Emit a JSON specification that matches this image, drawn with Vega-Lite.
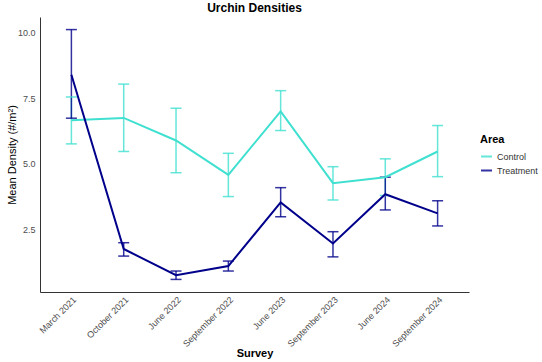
{
  "$schema": "https://vega.github.io/schema/vega-lite/v6.json",
  "autosize": "none",
  "width": 429,
  "height": 275,
  "padding": {"left": 40, "top": 17, "right": 73, "bottom": 70},
  "config": {
    "font": "Liberation Sans",
    "view": {"stroke": null},
    "axis": {"grid": false, "ticks": false, "domainColor": "#333333", "domainWidth": 1, "labelColor": "#4d4d4d", "labelFontSize": 9, "titleFontSize": 11, "titleColor": "#000000"}
  },
  "title": {"text": "Urchin Densities", "fontSize": 12, "fontWeight": "bold", "anchor": "middle", "offset": 2, "color": "#000000"},
  "data": {
    "values": [
      {"survey": "March 2021", "area": "Control", "mean": 6.66, "lo": 5.76, "hi": 7.55},
      {"survey": "October 2021", "area": "Control", "mean": 6.75, "lo": 5.47, "hi": 8.04},
      {"survey": "June 2022", "area": "Control", "mean": 5.89, "lo": 4.66, "hi": 7.12},
      {"survey": "September 2022", "area": "Control", "mean": 4.58, "lo": 3.75, "hi": 5.4},
      {"survey": "June 2023", "area": "Control", "mean": 7.0, "lo": 6.27, "hi": 7.79},
      {"survey": "September 2023", "area": "Control", "mean": 4.26, "lo": 3.62, "hi": 4.89},
      {"survey": "June 2024", "area": "Control", "mean": 4.49, "lo": 3.79, "hi": 5.19},
      {"survey": "September 2024", "area": "Control", "mean": 5.47, "lo": 4.51, "hi": 6.46},
      {"survey": "March 2021", "area": "Treatment", "mean": 8.4, "lo": 6.74, "hi": 10.12},
      {"survey": "October 2021", "area": "Treatment", "mean": 1.75, "lo": 1.48, "hi": 1.99},
      {"survey": "June 2022", "area": "Treatment", "mean": 0.75, "lo": 0.59, "hi": 0.91},
      {"survey": "September 2022", "area": "Treatment", "mean": 1.1, "lo": 0.91, "hi": 1.29},
      {"survey": "June 2023", "area": "Treatment", "mean": 3.53, "lo": 2.98, "hi": 4.09},
      {"survey": "September 2023", "area": "Treatment", "mean": 1.96, "lo": 1.45, "hi": 2.41},
      {"survey": "June 2024", "area": "Treatment", "mean": 3.84, "lo": 3.24, "hi": 4.49},
      {"survey": "September 2024", "area": "Treatment", "mean": 3.11, "lo": 2.63, "hi": 3.59}
    ]
  },
  "encoding": {
    "x": {
      "field": "survey", "type": "ordinal", "sort": null,
      "scale": {"type": "point", "padding": 0.6},
      "axis": {"title": "Survey", "titleFontWeight": "bold", "labelAngle": -45, "labelAlign": "right", "labelBaseline": "top", "labelPadding": 3, "titleY": 55, "titleBaseline": "top"}
    },
    "color": {
      "field": "area", "type": "nominal",
      "scale": {"domain": ["Control", "Treatment"], "range": ["#40E0D0", "#00008B"]},
      "legend": {"title": "Area", "orient": "none", "legendX": 440, "legendY": 117, "titleFontSize": 11, "titleFontWeight": "bold", "titleColor": "#000000", "labelFontSize": 9, "labelColor": "#333333", "symbolType": "stroke", "symbolSize": 120, "symbolStrokeWidth": 2, "rowPadding": 2}
    }
  },
  "layer": [
    {
      "mark": {"type": "rule", "strokeWidth": 1.5, "opacity": 0.8},
      "encoding": {
        "y": {"field": "lo", "type": "quantitative", "scale": {"domain": [0.11, 10.6], "nice": false, "zero": false},
          "axis": {"title": "Mean Density (#/m²)", "titleFontWeight": "normal", "values": [2.5, 5, 7.5, 10], "format": ".1f", "labelPadding": 5, "titleX": -28, "titleBaseline": "middle"}},
        "y2": {"field": "hi"}
      }
    },
    {
      "mark": {"type": "tick", "thickness": 1.5, "size": 11, "opacity": 0.8},
      "encoding": {"y": {"field": "lo", "type": "quantitative"}}
    },
    {
      "mark": {"type": "tick", "thickness": 1.5, "size": 11, "opacity": 0.8},
      "encoding": {"y": {"field": "hi", "type": "quantitative"}}
    },
    {
      "mark": {"type": "line", "strokeWidth": 2},
      "encoding": {"y": {"field": "mean", "type": "quantitative"}}
    }
  ]
}
